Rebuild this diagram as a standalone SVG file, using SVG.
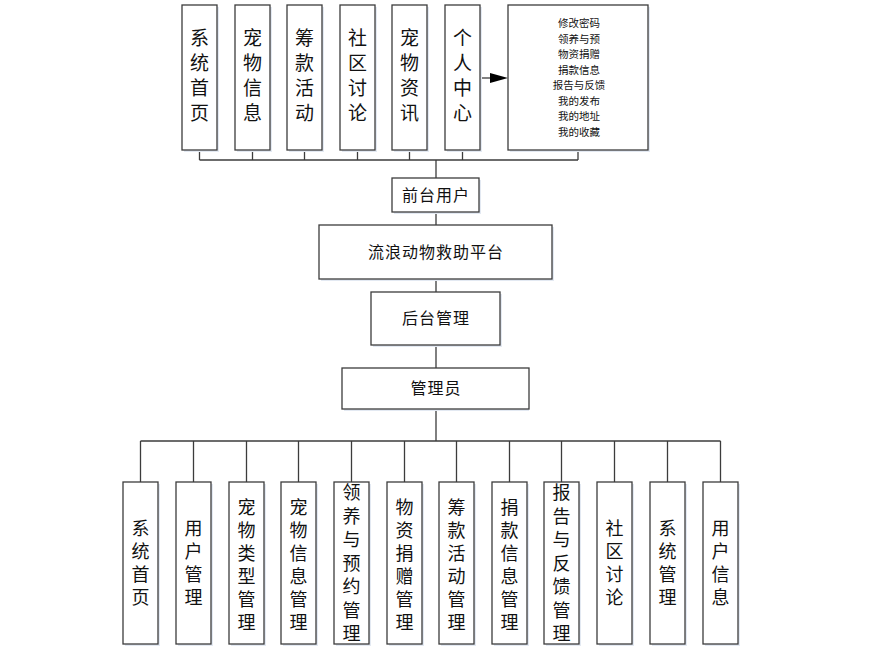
<svg xmlns="http://www.w3.org/2000/svg" width="880" height="653" viewBox="0 0 880 653">
<defs>
<style>
.box{fill:#fff;stroke:#3c3c3c;stroke-width:1.3}
.sh{fill:#e3e9f2;stroke:none}
.ln{stroke:#3c3c3c;stroke-width:1.3;fill:none}
.vt{font-family:"Noto Sans CJK SC","Noto Sans CJK JP",sans-serif;font-size:18px;fill:#111;text-anchor:middle}
.vt2{font-family:"Noto Sans CJK SC","Noto Sans CJK JP",sans-serif;font-size:19px;fill:#111;text-anchor:middle}
.mt{font-family:"Noto Sans CJK SC","Noto Sans CJK JP",sans-serif;font-size:16px;fill:#111;text-anchor:middle;letter-spacing:1px}
.st{font-family:"Noto Sans CJK SC","Noto Sans CJK JP",sans-serif;font-size:10.5px;fill:#111;text-anchor:middle}
</style>
</defs>
<rect width="880" height="653" fill="#fff"/>
<g id="connectors">
<path class="ln" d="M199.5 150V160M252.5 150V160M304.5 150V160M357.5 150V160M409.5 150V160M462.5 150V160M578 150V160M199.5 160H578M436 160V178M436 212V225M436 279V292M436 345V368M436 409V441"/>
<path class="ln" d="M140.5 441H720.5M140.5 441V482M193.5 441V482M246.5 441V482M298.5 441V482M351.5 441V482M404.5 441V482M456.5 441V482M509.5 441V482M561.5 441V482M614.5 441V482M667.5 441V482M720.5 441V482"/>
<path class="ln" d="M480 78H491"/>
<polygon points="490,73 508,78 490,83" fill="#000"/>
</g>
<g id="top1"><rect class="sh" x="184" y="7" width="35" height="145"/><rect class="box" x="182" y="5" width="35" height="145"/><text class="vt2"><tspan x="199.5" y="45">系</tspan><tspan x="199.5" y="70">统</tspan><tspan x="199.5" y="95">首</tspan><tspan x="199.5" y="120">页</tspan></text></g>
<g id="top2"><rect class="sh" x="237" y="7" width="35" height="145"/><rect class="box" x="235" y="5" width="35" height="145"/><text class="vt2"><tspan x="252.5" y="45">宠</tspan><tspan x="252.5" y="70">物</tspan><tspan x="252.5" y="95">信</tspan><tspan x="252.5" y="120">息</tspan></text></g>
<g id="top3"><rect class="sh" x="289" y="7" width="35" height="145"/><rect class="box" x="287" y="5" width="35" height="145"/><text class="vt2"><tspan x="304.5" y="45">筹</tspan><tspan x="304.5" y="70">款</tspan><tspan x="304.5" y="95">活</tspan><tspan x="304.5" y="120">动</tspan></text></g>
<g id="top4"><rect class="sh" x="342" y="7" width="35" height="145"/><rect class="box" x="340" y="5" width="35" height="145"/><text class="vt2"><tspan x="357.5" y="45">社</tspan><tspan x="357.5" y="70">区</tspan><tspan x="357.5" y="95">讨</tspan><tspan x="357.5" y="120">论</tspan></text></g>
<g id="top5"><rect class="sh" x="394" y="7" width="35" height="145"/><rect class="box" x="392" y="5" width="35" height="145"/><text class="vt2"><tspan x="409.5" y="45">宠</tspan><tspan x="409.5" y="70">物</tspan><tspan x="409.5" y="95">资</tspan><tspan x="409.5" y="120">讯</tspan></text></g>
<g id="top6"><rect class="sh" x="447" y="7" width="35" height="145"/><rect class="box" x="445" y="5" width="35" height="145"/><text class="vt2"><tspan x="462.5" y="45">个</tspan><tspan x="462.5" y="70">人</tspan><tspan x="462.5" y="95">中</tspan><tspan x="462.5" y="120">心</tspan></text></g>
<g id="personal-detail"><rect class="sh" x="510" y="7" width="140" height="145"/><rect class="box" x="508" y="5" width="140" height="145"/>
<text class="st"><tspan x="579" y="27">修改密码</tspan><tspan x="579" y="42.5">领养与预</tspan><tspan x="579" y="58">物资捐赠</tspan><tspan x="579" y="73.5">捐款信息</tspan><tspan x="579" y="89">报告与反馈</tspan><tspan x="579" y="104.5">我的发布</tspan><tspan x="579" y="120">我的地址</tspan><tspan x="579" y="135.5">我的收藏</tspan></text></g>
<g id="frontend"><rect class="sh" x="394" y="180" width="87" height="34"/><rect class="box" x="392" y="178" width="87" height="34"/><text class="mt" x="436" y="201">前台用户</text></g>
<g id="platform"><rect class="sh" x="321" y="227" width="233" height="54"/><rect class="box" x="319" y="225" width="233" height="54"/><text class="mt" x="436" y="258">流浪动物救助平台</text></g>
<g id="backend"><rect class="sh" x="373" y="294" width="129" height="53"/><rect class="box" x="371" y="292" width="129" height="53"/><text class="mt" x="436" y="324">后台管理</text></g>
<g id="admin"><rect class="sh" x="344" y="370" width="185" height="41"/><rect class="box" x="342" y="368" width="187" height="41"/><text class="mt" x="436" y="394">管理员</text></g>
<g id="b1"><rect class="sh" x="125" y="484" width="35" height="162"/><rect class="box" x="123" y="482" width="35" height="162"/><text class="vt"><tspan x="140.5" y="535">系</tspan><tspan x="140.5" y="558">统</tspan><tspan x="140.5" y="581">首</tspan><tspan x="140.5" y="604">页</tspan></text></g>
<g id="b2"><rect class="sh" x="178" y="484" width="35" height="162"/><rect class="box" x="176" y="482" width="35" height="162"/><text class="vt"><tspan x="193.5" y="535">用</tspan><tspan x="193.5" y="558">户</tspan><tspan x="193.5" y="581">管</tspan><tspan x="193.5" y="604">理</tspan></text></g>
<g id="b3"><rect class="sh" x="231" y="484" width="35" height="162"/><rect class="box" x="229" y="482" width="35" height="162"/><text class="vt"><tspan x="246.5" y="514">宠</tspan><tspan x="246.5" y="537">物</tspan><tspan x="246.5" y="560">类</tspan><tspan x="246.5" y="583">型</tspan><tspan x="246.5" y="606">管</tspan><tspan x="246.5" y="629">理</tspan></text></g>
<g id="b4"><rect class="sh" x="283" y="484" width="35" height="162"/><rect class="box" x="281" y="482" width="35" height="162"/><text class="vt"><tspan x="298.5" y="514">宠</tspan><tspan x="298.5" y="537">物</tspan><tspan x="298.5" y="560">信</tspan><tspan x="298.5" y="583">息</tspan><tspan x="298.5" y="606">管</tspan><tspan x="298.5" y="629">理</tspan></text></g>
<g id="b5"><rect class="sh" x="336" y="484" width="35" height="162"/><rect class="box" x="334" y="482" width="35" height="162"/><text class="vt"><tspan x="351.5" y="499">领</tspan><tspan x="351.5" y="522.5">养</tspan><tspan x="351.5" y="546">与</tspan><tspan x="351.5" y="569.5">预</tspan><tspan x="351.5" y="593">约</tspan><tspan x="351.5" y="616.5">管</tspan><tspan x="351.5" y="640">理</tspan></text></g>
<g id="b6"><rect class="sh" x="389" y="484" width="35" height="162"/><rect class="box" x="387" y="482" width="35" height="162"/><text class="vt"><tspan x="404.5" y="514">物</tspan><tspan x="404.5" y="537">资</tspan><tspan x="404.5" y="560">捐</tspan><tspan x="404.5" y="583">赠</tspan><tspan x="404.5" y="606">管</tspan><tspan x="404.5" y="629">理</tspan></text></g>
<g id="b7"><rect class="sh" x="441" y="484" width="35" height="162"/><rect class="box" x="439" y="482" width="35" height="162"/><text class="vt"><tspan x="456.5" y="514">筹</tspan><tspan x="456.5" y="537">款</tspan><tspan x="456.5" y="560">活</tspan><tspan x="456.5" y="583">动</tspan><tspan x="456.5" y="606">管</tspan><tspan x="456.5" y="629">理</tspan></text></g>
<g id="b8"><rect class="sh" x="494" y="484" width="35" height="162"/><rect class="box" x="492" y="482" width="35" height="162"/><text class="vt"><tspan x="509.5" y="514">捐</tspan><tspan x="509.5" y="537">款</tspan><tspan x="509.5" y="560">信</tspan><tspan x="509.5" y="583">息</tspan><tspan x="509.5" y="606">管</tspan><tspan x="509.5" y="629">理</tspan></text></g>
<g id="b9"><rect class="sh" x="546" y="484" width="35" height="162"/><rect class="box" x="544" y="482" width="35" height="162"/><text class="vt"><tspan x="561.5" y="499">报</tspan><tspan x="561.5" y="522.5">告</tspan><tspan x="561.5" y="546">与</tspan><tspan x="561.5" y="569.5">反</tspan><tspan x="561.5" y="593">馈</tspan><tspan x="561.5" y="616.5">管</tspan><tspan x="561.5" y="640">理</tspan></text></g>
<g id="b10"><rect class="sh" x="599" y="484" width="35" height="162"/><rect class="box" x="597" y="482" width="35" height="162"/><text class="vt"><tspan x="614.5" y="535">社</tspan><tspan x="614.5" y="558">区</tspan><tspan x="614.5" y="581">讨</tspan><tspan x="614.5" y="604">论</tspan></text></g>
<g id="b11"><rect class="sh" x="652" y="484" width="35" height="162"/><rect class="box" x="650" y="482" width="35" height="162"/><text class="vt"><tspan x="667.5" y="535">系</tspan><tspan x="667.5" y="558">统</tspan><tspan x="667.5" y="581">管</tspan><tspan x="667.5" y="604">理</tspan></text></g>
<g id="b12"><rect class="sh" x="705" y="484" width="35" height="162"/><rect class="box" x="703" y="482" width="35" height="162"/><text class="vt"><tspan x="720.5" y="535">用</tspan><tspan x="720.5" y="558">户</tspan><tspan x="720.5" y="581">信</tspan><tspan x="720.5" y="604">息</tspan></text></g>
</svg>
